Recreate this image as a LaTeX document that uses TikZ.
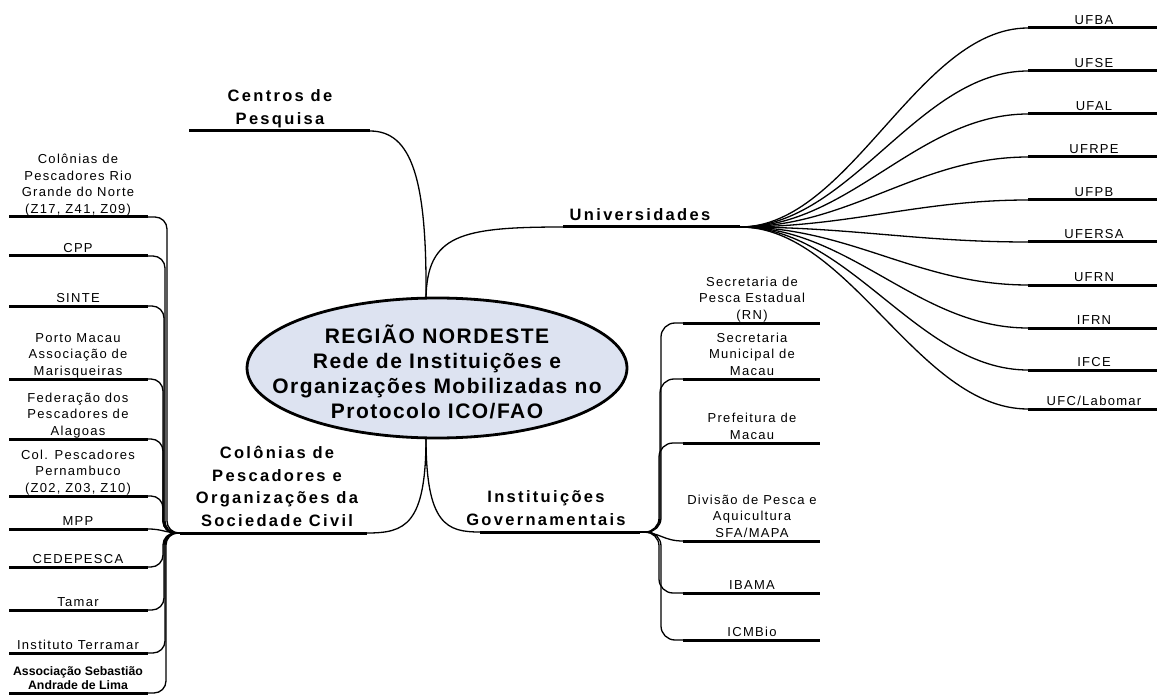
\documentclass[tikz,border=0pt]{standalone}
\usepackage{fontspec}
\setmainfont{Liberation Sans}
\newfontfamily\leaffont[LetterSpace=10]{Liberation Sans}
\newfontfamily\branchfont[LetterSpace=14]{Liberation Sans}
\newfontfamily\rootfont[LetterSpace=7]{Liberation Sans}
\usetikzlibrary{calc,shapes.geometric}
\definecolor{rootfill}{HTML}{DDE3F1}
\tikzset{
  conn/.style={line width=1.3pt, black},
  leafline/.style={line width=3pt, black},
  leaftext/.style={anchor=south, inner sep=0pt, yshift=3.5pt, text depth=0pt, align=center,
    font=\leaffont\fontsize{13}{16.5}\selectfont},
  boldleaf/.style={leaftext, font=\bfseries\fontsize{12.3}{13.5}\selectfont},
  branchtext/.style={anchor=south, inner sep=0pt, yshift=6.5pt, text depth=0pt, align=center,
    font=\branchfont\bfseries\fontsize{16.5}{22.5}\selectfont},
  rootnode/.style={ellipse, draw, line width=2.8pt, fill=rootfill, minimum width=380pt,
    minimum height=140pt, inner sep=0pt, font=\rootfont\bfseries\fontsize{21}{25}\selectfont},
}
\newcommand{\mkleaf}[7]{%
  \coordinate (#1a) at (#2,#4);
  \coordinate (#1b) at (#3,#4);
  \draw[leafline] (#1a) -- (#1b);
  \node[#7] (#1) at (#5,#4) {#6};
}
\begin{document}
\begin{tikzpicture}[x=1pt,y=-1pt]
\useasboundingbox (0,0) rectangle (1157,695);

% central node
\node[rootnode] (root) at (437,368) {\makebox[0pt]{\smash{\raisebox{25pt}{\begin{tabular}[t]{@{}c@{}}REGIÃO NORDESTE\\Rede de Instituições e\\Organizações Mobilizadas no\\Protocolo ICO/FAO\end{tabular}}}}};
\coordinate (rtop) at ($(root.center)+(-11,-69.6)$);
\coordinate (rbot) at ($(root.center)+(-11,69.6)$);

% branches
\mkleaf{Cen}{189}{370}{131}{280}{Centros de\\Pesquisa}{branchtext}
\mkleaf{Uni}{563}{740}{227}{640}{Universidades}{branchtext}
\mkleaf{Col}{180}{367}{533}{277}{Colônias de\\Pescadores e\\Organizações da\\Sociedade Civil}{branchtext}
\mkleaf{Ins}{480}{640}{532}{546}{Instituições\\Governamentais}{branchtext}

\draw[conn] (rtop) .. controls (427,180) and (412,131) .. (Cenb);
\draw[conn] (rtop) .. controls (427,235) and (460,227) .. (Unia);
\draw[conn] (rbot) .. controls (426,525) and (405,533) .. (Colb);
\draw[conn] (rbot) .. controls (426,525) and (447,532) .. (Insa);

% left leaves
\mkleaf{La}{9}{148}{217}{78}{Colônias de\\Pescadores Rio\\Grande do Norte\\(Z17, Z41, Z09)}{leaftext}
\mkleaf{Lb}{9}{148}{256}{78}{CPP}{leaftext}
\mkleaf{Lc}{9}{148}{306}{78}{SINTE}{leaftext}
\mkleaf{Ld}{9}{148}{379}{78}{Porto Macau\\Associação de\\Marisqueiras}{leaftext}
\mkleaf{Le}{9}{148}{439}{78}{Federação dos\\Pescadores de\\Alagoas}{leaftext}
\mkleaf{Lf}{9}{148}{496}{78}{Col. Pescadores\\Pernambuco\\(Z02, Z03, Z10)}{leaftext}
\mkleaf{Lg}{9}{148}{529}{78}{MPP}{leaftext}
\mkleaf{Lh}{9}{148}{567}{78}{CEDEPESCA}{leaftext}
\mkleaf{Li}{9}{148}{610}{78}{Tamar}{leaftext}
\mkleaf{Lj}{9}{148}{653}{78}{Instituto Terramar}{leaftext}
\mkleaf{Lk}{9}{148}{693}{78}{Associação Sebastião\\Andrade de Lima}{boldleaf}

\draw[conn, rounded corners=12pt] (Cola) -- ++(-13,0) |- (Lab);
\draw[conn, rounded corners=12pt] (Cola) -- ++(-15,0) |- (Lbb);
\draw[conn, rounded corners=12pt] (Cola) -- ++(-16,0) |- (Lcb);
\draw[conn, rounded corners=12pt] (Cola) -- ++(-17,0) |- (Ldb);
\draw[conn, rounded corners=12pt] (Cola) -- ++(-17,0) |- (Leb);
\draw[conn, rounded corners=12pt] (Cola) -- ++(-17,0) |- (Lfb);
\draw[conn] (Cola) .. controls +(-15,0) and +(15,0) .. (Lgb);
\draw[conn, rounded corners=12pt] (Cola) -- ++(-17,0) |- (Lhb);
\draw[conn, rounded corners=12pt] (Cola) -- ++(-16,0) |- (Lib);
\draw[conn, rounded corners=12pt] (Cola) -- ++(-15,0) |- (Ljb);
\draw[conn, rounded corners=12pt] (Cola) -- ++(-14,0) |- (Lkb);

% right leaves (Instituições Governamentais)
\mkleaf{Ra}{683}{820}{323}{752}{Secretaria de\\Pesca Estadual\\(RN)}{leaftext}
\mkleaf{Rb}{683}{820}{379}{752}{Secretaria\\Municipal de\\Macau}{leaftext}
\mkleaf{Rc}{683}{820}{443}{752}{Prefeitura de\\Macau}{leaftext}
\mkleaf{Rd}{683}{820}{541}{752}{Divisão de Pesca e\\Aquicultura\\SFA/MAPA}{leaftext}
\mkleaf{Re}{683}{820}{593}{752}{IBAMA}{leaftext}
\mkleaf{Rf}{683}{820}{640}{752}{ICMBio}{leaftext}

\draw[conn, rounded corners=14pt] (Insb) -- ++(21,0) |- (Raa);
\draw[conn, rounded corners=14pt] (Insb) -- ++(20,0) |- (Rba);
\draw[conn, rounded corners=14pt] (Insb) -- ++(19,0) |- (Rca);
\draw[conn] (Insb) .. controls +(20,0) and +(-20,0) .. (Rda);
\draw[conn, rounded corners=14pt] (Insb) -- ++(19,0) |- (Rea);
\draw[conn, rounded corners=14pt] (Insb) -- ++(21,0) |- (Rfa);

% universities
\mkleaf{Ua}{1028}{1157}{28}{1094}{UFBA}{leaftext}
\mkleaf{Ub}{1028}{1157}{71}{1094}{UFSE}{leaftext}
\mkleaf{Uc}{1028}{1157}{114}{1094}{UFAL}{leaftext}
\mkleaf{Ud}{1028}{1157}{157}{1094}{UFRPE}{leaftext}
\mkleaf{Ue}{1028}{1157}{200}{1094}{UFPB}{leaftext}
\mkleaf{Uf}{1028}{1157}{242}{1094}{UFERSA}{leaftext}
\mkleaf{Ug}{1028}{1157}{285}{1094}{UFRN}{leaftext}
\mkleaf{Uh}{1028}{1157}{328}{1094}{IFRN}{leaftext}
\mkleaf{Ui}{1028}{1157}{370}{1094}{IFCE}{leaftext}
\mkleaf{Uj}{1028}{1157}{409}{1094}{UFC/Labomar}{leaftext}

\foreach \u in {Ua,Ub,Uc,Ud,Ue,Uf,Ug,Uh,Ui,Uj}
  \draw[conn] (Unib) .. controls +(110,0) and +(-110,0) .. (\u a);
\end{tikzpicture}
\end{document}
